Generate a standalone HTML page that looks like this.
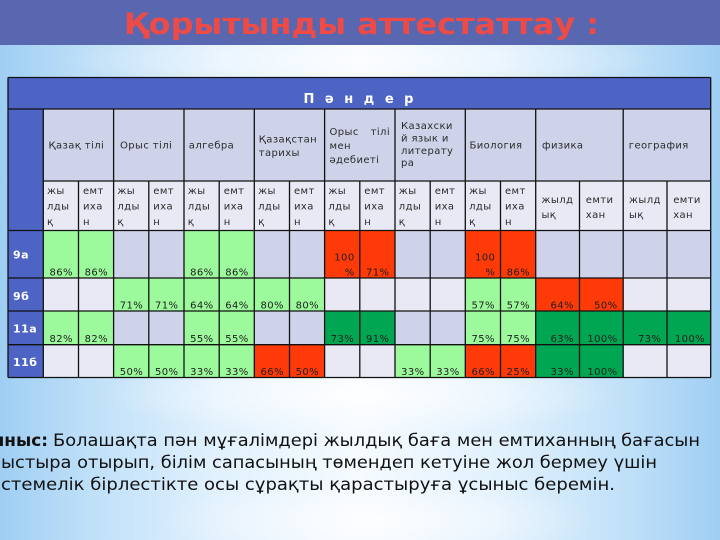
<!DOCTYPE html>
<html>
<head>
<meta charset="utf-8">
<style>
html,body{margin:0;padding:0;}
body{width:720px;height:540px;overflow:hidden;position:relative;
background:linear-gradient(90deg,#9FCEF3 0%,#BEDFF8 12%,#E1F1FD 30%,#F6FBFF 50%,#E1F1FD 70%,#BEDFF8 88%,#9FCEF3 100%);}
.glow{position:absolute;left:0;top:0;width:720px;height:540px;
background:radial-gradient(ellipse 260px 40px at 360px 395px,rgba(255,255,255,0.8),rgba(255,255,255,0) 100%),
radial-gradient(ellipse 220px 40px at 380px 520px,rgba(255,255,255,0.7),rgba(255,255,255,0) 100%),
radial-gradient(ellipse 300px 30px at 360px 60px,rgba(255,255,255,0.6),rgba(255,255,255,0) 100%);}
.bar{position:absolute;left:0;top:0;width:720px;height:45px;background:#5967B1;}
svg{position:absolute;left:0;top:0;}
</style>
</head>
<body>
<div class="glow"></div>
<div class="bar"></div>
<svg width="720" height="540" viewBox="0 0 720 540" xmlns="http://www.w3.org/2000/svg">
<!-- Title -->
<text x="124" y="34" font-family="DejaVu Sans, sans-serif" font-weight="bold" font-size="29" fill="#EE4B47" textLength="475" lengthAdjust="spacingAndGlyphs">Қорытынды аттестаттау :</text>

<!-- Table backgrounds -->
<rect x="8" y="77.5" width="702.7" height="31.5" fill="#4D64C5"/>
<rect x="8" y="109" width="35.3" height="268.5" fill="#4D64C5"/>
<rect x="43.3" y="109" width="667.4" height="72" fill="#CFD3EA"/>
<rect x="43.3" y="181" width="667.4" height="49.5" fill="#E8E9F5"/>

<!-- Row 9а -->
<rect x="43.3" y="230.5" width="667.4" height="47.5" fill="#CFD3EA"/>
<rect x="43.3" y="230.5" width="70.3" height="47.5" fill="#9CFA9C"/>
<rect x="184.0" y="230.5" width="70.3" height="47.5" fill="#9CFA9C"/>
<rect x="324.6" y="230.5" width="70.4" height="47.5" fill="#FE3B08"/>
<rect x="465.3" y="230.5" width="70.4" height="47.5" fill="#FE3B08"/>
<!-- Row 9б -->
<rect x="43.3" y="278" width="667.4" height="33" fill="#E8E9F5"/>
<rect x="113.6" y="278" width="211" height="33" fill="#9CFA9C"/>
<rect x="465.3" y="278" width="70.4" height="33" fill="#9CFA9C"/>
<rect x="535.7" y="278" width="87.5" height="33" fill="#FE3B08"/>
<!-- Row 11а -->
<rect x="43.3" y="311" width="667.4" height="33.7" fill="#CFD3EA"/>
<rect x="43.3" y="311" width="70.3" height="33.7" fill="#9CFA9C"/>
<rect x="184.0" y="311" width="70.3" height="33.7" fill="#9CFA9C"/>
<rect x="465.3" y="311" width="70.4" height="33.7" fill="#9CFA9C"/>
<rect x="324.6" y="311" width="70.4" height="33.7" fill="#00A651"/>
<rect x="535.7" y="311" width="175" height="33.7" fill="#00A651"/>
<!-- Row 11б -->
<rect x="43.3" y="344.7" width="667.4" height="32.8" fill="#E8E9F5"/>
<rect x="113.6" y="344.7" width="140.7" height="32.8" fill="#9CFA9C"/>
<rect x="395.0" y="344.7" width="70.3" height="32.8" fill="#9CFA9C"/>
<rect x="254.3" y="344.7" width="70.3" height="32.8" fill="#FE3B08"/>
<rect x="465.3" y="344.7" width="70.4" height="32.8" fill="#FE3B08"/>
<rect x="535.7" y="344.7" width="87.5" height="32.8" fill="#00A651"/>

<!-- Grid -->
<path fill="none" stroke="#111" stroke-width="1.3" d="
M8 77.5H710.7 M8 109H710.7 M43.3 181H710.7 M8 230.5H710.7 M8 278H710.7 M8 311H710.7 M8 344.7H710.7 M8 377.5H710.7
M8 77.5V377.5 M710.7 77.5V377.5 M43.3 109V377.5
M113.6 109V377.5 M184.0 109V377.5 M254.3 109V377.5 M324.6 109V377.5 M395.0 109V377.5 M465.3 109V377.5 M535.7 109V377.5 M623.2 109V377.5
M78.5 181V377.5 M148.8 181V377.5 M219.2 181V377.5 M289.5 181V377.5 M359.8 181V377.5 M430.2 181V377.5 M500.5 181V377.5 M579.5 181V377.5 M667.0 181V377.5"/>

<!-- Header -->
<text x="360" y="103" text-anchor="middle" font-family="DejaVu Sans, sans-serif" font-weight="bold" font-size="13" fill="#FFFFFF" letter-spacing="3">П ә н д е р</text>

<!-- Subject row -->
<g font-family="DejaVu Sans, sans-serif" font-size="10" fill="#2B2B2B" letter-spacing="0.4">
<text x="48.5" y="148.5">Қазақ тілі</text>
<text x="120" y="148.5">Орыс тілі</text>
<text x="188.8" y="148.5">алгебра</text>
<text x="258.8" y="142.5">Қазақстан</text>
<text x="258.8" y="156">тарихы</text>
<text x="329.5" y="135">Орыс</text>
<text x="390" y="135" text-anchor="end">тілі</text>
<text x="329.5" y="149">мен</text>
<text x="329.5" y="163">әдебиеті</text>
<text x="401" y="129">Казахски</text>
<text x="401" y="141.5">й язык и</text>
<text x="401" y="154">литерату</text>
<text x="401" y="166">ра</text>
<text x="469.5" y="148.5">Биология</text>
<text x="542" y="148.5">физика</text>
<text x="628.8" y="148.5">география</text>
</g>

<!-- Sub header row -->
<g font-family="DejaVu Sans, sans-serif" font-size="10" fill="#2B2B2B" letter-spacing="0.4">
<text x="47" y="194">жы</text><text x="47" y="209.5">лды</text><text x="47" y="225">қ</text>
<text x="83" y="194">емт</text><text x="83" y="209.5">иха</text><text x="83" y="225">н</text>
<text x="117.4" y="194">жы</text><text x="117.4" y="209.5">лды</text><text x="117.4" y="225">қ</text>
<text x="153.3" y="194">емт</text><text x="153.3" y="209.5">иха</text><text x="153.3" y="225">н</text>
<text x="187.8" y="194">жы</text><text x="187.8" y="209.5">лды</text><text x="187.8" y="225">қ</text>
<text x="223.7" y="194">емт</text><text x="223.7" y="209.5">иха</text><text x="223.7" y="225">н</text>
<text x="258.1" y="194">жы</text><text x="258.1" y="209.5">лды</text><text x="258.1" y="225">қ</text>
<text x="294" y="194">емт</text><text x="294" y="209.5">иха</text><text x="294" y="225">н</text>
<text x="328.4" y="194">жы</text><text x="328.4" y="209.5">лды</text><text x="328.4" y="225">қ</text>
<text x="364.3" y="194">емт</text><text x="364.3" y="209.5">иха</text><text x="364.3" y="225">н</text>
<text x="398.8" y="194">жы</text><text x="398.8" y="209.5">лды</text><text x="398.8" y="225">қ</text>
<text x="434.7" y="194">емт</text><text x="434.7" y="209.5">иха</text><text x="434.7" y="225">н</text>
<text x="469.1" y="194">жы</text><text x="469.1" y="209.5">лды</text><text x="469.1" y="225">қ</text>
<text x="505" y="194">емт</text><text x="505" y="209.5">иха</text><text x="505" y="225">н</text>
<text x="541.5" y="203">жылд</text><text x="541.5" y="218">ық</text>
<text x="585.8" y="203">емти</text><text x="585.8" y="218">хан</text>
<text x="629" y="203">жылд</text><text x="629" y="218">ық</text>
<text x="673.2" y="203">емти</text><text x="673.2" y="218">хан</text>
</g>

<!-- Row labels -->
<g font-family="DejaVu Sans, sans-serif" font-weight="bold" font-size="11" fill="#FFFFFF" letter-spacing="0.5">
<text x="13" y="258.7">9а</text>
<text x="13" y="300">9б</text>
<text x="13" y="332.7">11а</text>
<text x="13" y="366">11б</text>
</g>

<!-- Data values -->
<g font-family="DejaVu Sans, sans-serif" font-size="10" fill="#1E1E1E" letter-spacing="0.4" text-anchor="end">
<text x="72.9" y="275.5">86%</text>
<text x="108" y="275.5">86%</text>
<text x="213.6" y="275.5">86%</text>
<text x="248.7" y="275.5">86%</text>
<text x="354.6" y="260.5">100</text>
<text x="354.6" y="275.5">%</text>
<text x="389.4" y="275.5">71%</text>
<text x="495.3" y="260.5">100</text>
<text x="495.3" y="275.5">%</text>
<text x="530.1" y="275.5">86%</text>

<text x="143.2" y="308.5">71%</text>
<text x="178.4" y="308.5">71%</text>
<text x="213.6" y="308.5">64%</text>
<text x="248.7" y="308.5">64%</text>
<text x="283.9" y="308.5">80%</text>
<text x="319" y="308.5">80%</text>
<text x="494.9" y="308.5">57%</text>
<text x="530.1" y="308.5">57%</text>
<text x="573.9" y="308.5">64%</text>
<text x="617.6" y="308.5">50%</text>

<text x="72.9" y="342">82%</text>
<text x="108" y="342">82%</text>
<text x="213.6" y="342">55%</text>
<text x="248.7" y="342">55%</text>
<text x="354.2" y="342">73%</text>
<text x="389.4" y="342">91%</text>
<text x="494.9" y="342">75%</text>
<text x="530.1" y="342">75%</text>
<text x="573.9" y="342">63%</text>
<text x="617.6" y="342">100%</text>
<text x="661.4" y="342">73%</text>
<text x="705.1" y="342">100%</text>

<text x="143.2" y="375">50%</text>
<text x="178.4" y="375">50%</text>
<text x="213.6" y="375">33%</text>
<text x="248.7" y="375">33%</text>
<text x="283.9" y="375">66%</text>
<text x="319" y="375">50%</text>
<text x="424.6" y="375">33%</text>
<text x="459.7" y="375">33%</text>
<text x="494.9" y="375">66%</text>
<text x="530.1" y="375">25%</text>
<text x="573.9" y="375">33%</text>
<text x="617.6" y="375">100%</text>
</g>

<!-- Bottom text -->
<g font-family="DejaVu Sans, sans-serif" font-size="17" fill="#111111">
<text x="-11" y="446" font-weight="bold" textLength="59" lengthAdjust="spacingAndGlyphs">ыныс:</text>
<text x="53" y="446" textLength="647" lengthAdjust="spacingAndGlyphs">Болашақта пән мұғалімдері жылдық баға мен емтиханның бағасын</text>
<text x="1" y="468" textLength="656" lengthAdjust="spacingAndGlyphs">ыстыра отырып, білім сапасының төмендеп кетуіне жол бермеу үшін</text>
<text x="1" y="490" textLength="614" lengthAdjust="spacingAndGlyphs">стемелік  бірлестікте осы сұрақты қарастыруға ұсыныс беремін.</text>
</g>
</svg>
</body>
</html>
